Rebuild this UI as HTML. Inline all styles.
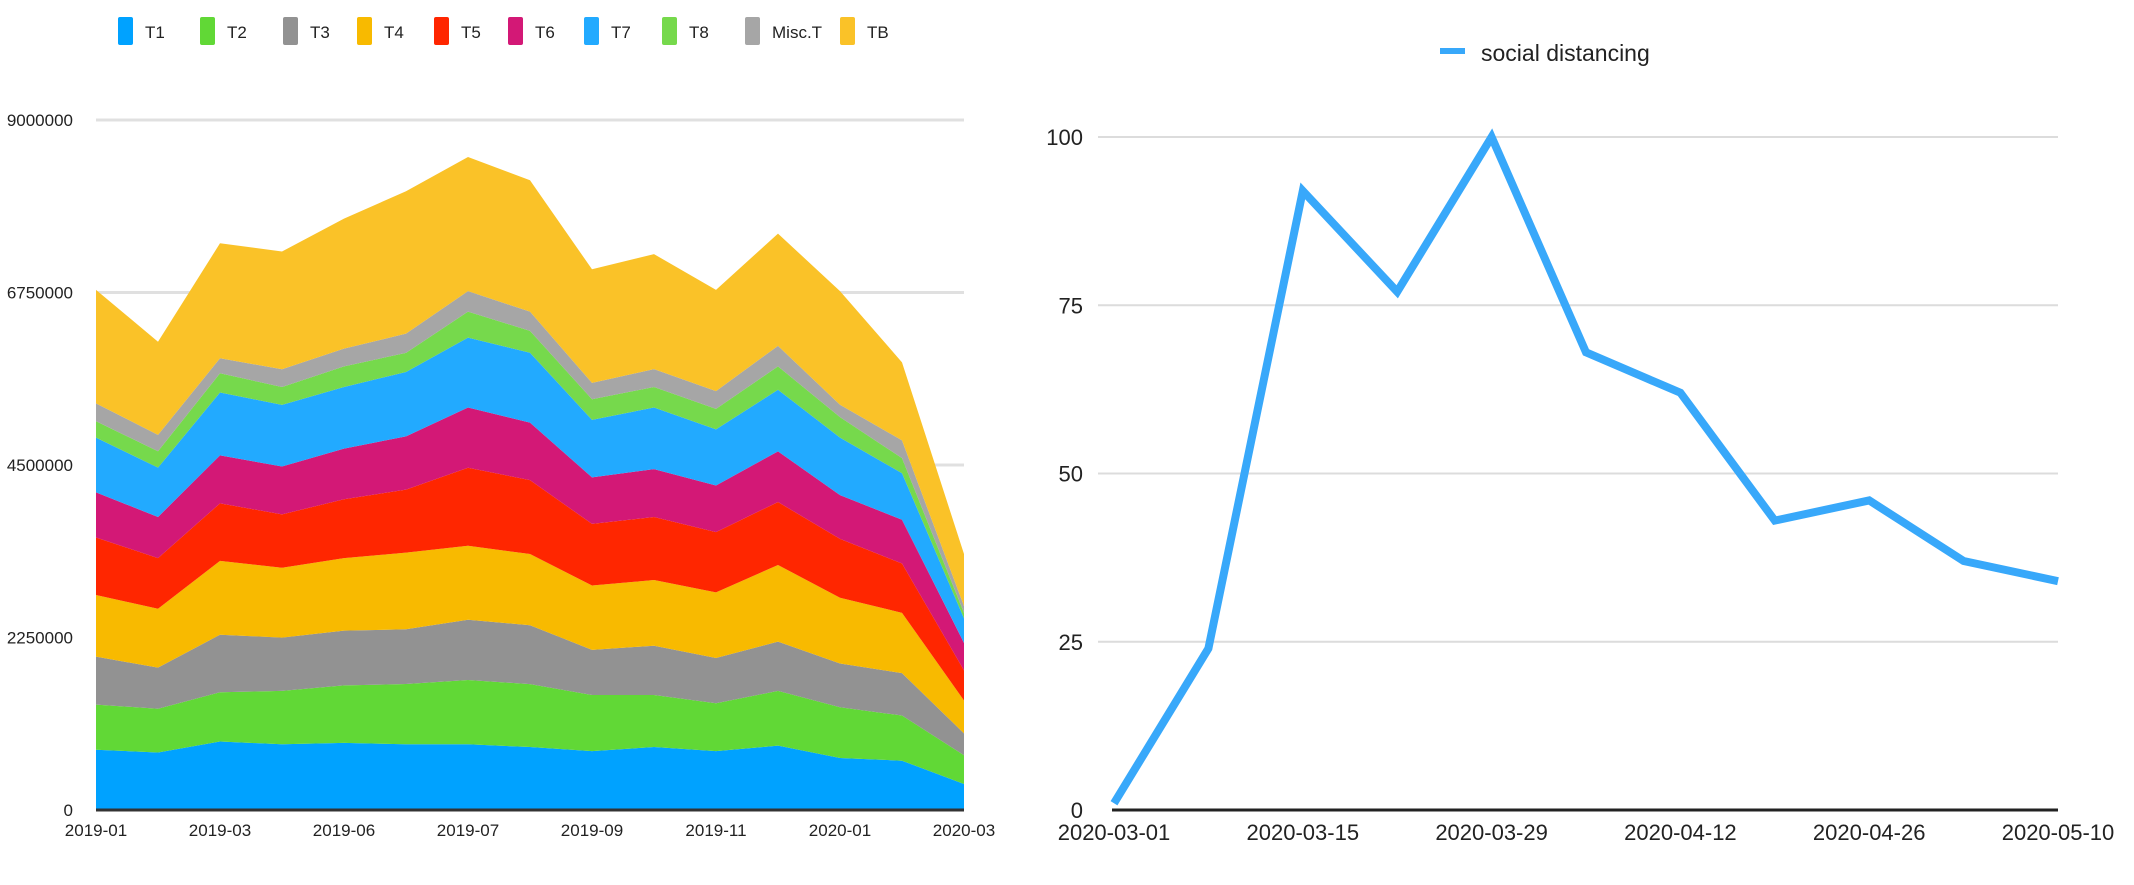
<!DOCTYPE html>
<html><head><meta charset="utf-8"><style>
html,body{margin:0;padding:0;background:#fff;}
svg{display:block;font-family:"Liberation Sans",sans-serif;}
</style></head><body>
<svg id="c" width="2134" height="885" viewBox="0 0 2134 885"></svg>
<script>
const months=["2019-01","2019-02","2019-03","2019-04","2019-05","2019-06","2019-07","2019-08","2019-09","2019-10","2019-11","2019-12","2020-01","2020-02","2020-03"];
const monthTickLabels=["2019-01","","2019-03","","2019-06","","2019-07","","2019-09","","2019-11","","2020-01","","2020-03"];
const seriesNames=["T1","T2","T3","T4","T5","T6","T7","T8","Misc.T","TB"];
const T1=[786,750,893,857,875,857,857,821,768,821,768,839,679,643,339];
const T2=[589,571,643,696,750,786,839,821,732,679,625,714,661,589,375];
const T3=[625,536,750,696,714,714,786,768,589,643,589,643,571,554,286];
const T4=[804,768,964,911,946,1000,964,929,839,857,857,1000,857,786,429];
const T5=[750,661,750,696,768,821,1018,964,804,821,786,821,768,643,393];
const T6=[589,536,625,625,661,696,786,750,607,625,607,661,571,571,357];
const T7=[714,643,821,804,804,839,911,911,750,804,732,804,750,607,321];
const T8=[214,214,250,232,268,250,339,286,268,268,268,304,268,196,71];
const MiscT=[232,214,196,232,232,250,268,250,214,232,232,268,161,232,89];
const TB=[1482,1214,1500,1536,1696,1857,1750,1714,1482,1500,1321,1464,1482,1018,679];
const leftYTicks=[0,2250000,4500000,6750000,9000000];
const weeks=["2020-03-01","2020-03-08","2020-03-15","2020-03-22","2020-03-29","2020-04-05","2020-04-12","2020-04-19","2020-04-26","2020-05-03","2020-05-10"];
const weekTickLabels=["2020-03-01","","2020-03-15","","2020-03-29","","2020-04-12","","2020-04-26","","2020-05-10"];
const socialDistancing=[1,24,92,77,100,68,62,43,46,37,34];
const rightYTicks=[0,25,50,75,100];

const NS="http://www.w3.org/2000/svg";
const svg=document.getElementById('c');
function mk(tag,attrs,parent){const e=document.createElementNS(NS,tag);for(const k in attrs)e.setAttribute(k,attrs[k]);(parent||svg).appendChild(e);return e;}

// LEFT CHART
const colors=["#00a2ff","#61d836","#929292","#f8ba00","#ff2600","#d31876","#22aaff","#76d94c","#a6a6a6","#fac228"];
const series=[T1,T2,T3,T4,T5,T6,T7,T8,MiscT,TB];
const lx0=96,lx1=964,ly0=810,ly1=120;
const lx=i=>lx0+(lx1-lx0)*i/(months.length-1);
const ly=v=>ly0-(ly0-ly1)*v/9000000;
leftYTicks.forEach(t=>{
  if(t>0){const g=mk('line',{x1:lx0,x2:lx1,y1:ly(t),y2:ly(t),stroke:'#e0e0e0','stroke-width':3});
  
  }
  const tx=mk('text',{x:73,y:ly(t)+6,'text-anchor':'end','font-size':17,fill:'#222'});
  tx.textContent=t;
  
  
});
let base=months.map(()=>0);
series.forEach((s,si)=>{
  const top=base.map((b,i)=>b+s[i]*1000);
  let d='M'+months.map((m,i)=>lx(i)+','+ly(top[i])).join(' L');
  for(let i=months.length-1;i>=0;i--)d+=' L'+lx(i)+','+ly(base[i]);
  d+=' Z';
  const p=mk('path',{d:d,fill:colors[si]});
  
  
  base=top;
});
const lb=mk('line',{x1:lx0,x2:lx1,y1:ly0,y2:ly0,stroke:'#333','stroke-width':3});


months.forEach((m,i)=>{
  if(!monthTickLabels[i])return;
  const t=mk('text',{x:lx(i),y:836,'text-anchor':'middle','font-size':17,fill:'#222'});
  t.textContent=monthTickLabels[i];
  
  
});
const legX=[118,200,283,357,434,508,584,662,745,840];
seriesNames.forEach((n,i)=>{
  const r=mk('rect',{x:legX[i],y:17,width:15,height:28,fill:colors[i],rx:2});
  
  
  const t=mk('text',{x:legX[i]+27,y:38,'font-size':17,fill:'#222'});
  t.textContent=n;
  
  
});

// RIGHT CHART
const rx0=1114,rx1=2058,ry0=810,ry1=137;
const rx=i=>rx0+(rx1-rx0)*i/(weeks.length-1);
const ry=v=>ry0-(ry0-ry1)*v/100;
rightYTicks.forEach(t=>{
  if(t>0){const g=mk('line',{x1:1098,x2:2058,y1:ry(t),y2:ry(t),stroke:'#dcdcdc','stroke-width':2});
  
  }
  const tx=mk('text',{x:1083,y:ry(t)+8,'text-anchor':'end','font-size':22,fill:'#222'});
  tx.textContent=t;
  
  
});
const rb=mk('line',{x1:1112,x2:2058,y1:ry0,y2:ry0,stroke:'#222','stroke-width':3});


const pl=mk('polyline',{points:socialDistancing.map((v,i)=>rx(i)+','+ry(v)).join(' '),fill:'none',stroke:'#38a8fa','stroke-width':8,'stroke-linejoin':'miter'});


weeks.forEach((w,i)=>{
  if(!weekTickLabels[i])return;
  const t=mk('text',{x:rx(i),y:840,'text-anchor':'middle','font-size':22,fill:'#222'});
  t.textContent=weekTickLabels[i];
  
  
});
const ls=mk('line',{x1:1440,x2:1465,y1:51,y2:51,stroke:'#38a8fa','stroke-width':6});


const lt=mk('text',{x:1481,y:61,'font-size':23,fill:'#222'});
lt.textContent='social distancing';


</script>
</body></html>
